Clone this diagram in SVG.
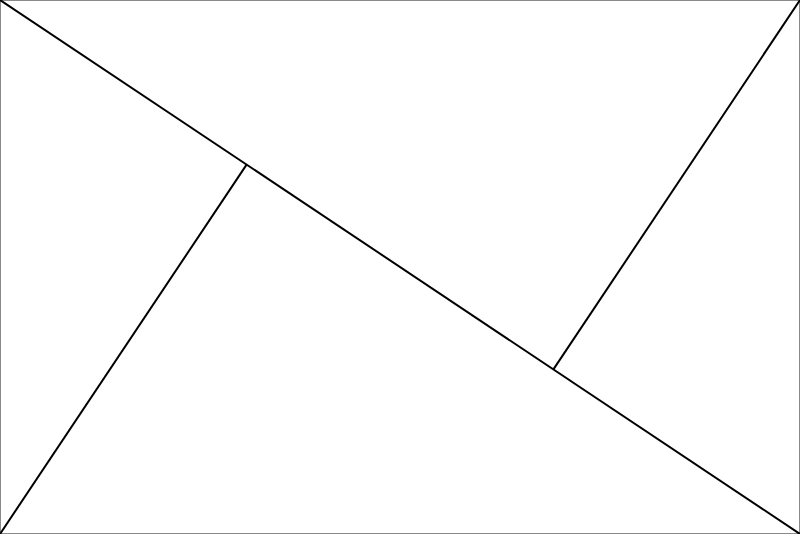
<svg xmlns="http://www.w3.org/2000/svg" width="800" height="534" viewBox="0 0 800 534">
<style>
.frame{fill:#ffffff;stroke:#8a8a8a;stroke-width:1}
.ln{stroke:#000000;stroke-width:2;fill:none}
</style>
<rect class="frame" x="0.5" y="0.5" width="799" height="533"/>
<g id="connectors">
<line class="ln" x1="0" y1="0" x2="800" y2="534"/>
<line class="ln" x1="0" y1="534" x2="246.6" y2="164.6"/>
<line class="ln" x1="800" y1="0" x2="553.4" y2="369.4"/>
</g>
</svg>
